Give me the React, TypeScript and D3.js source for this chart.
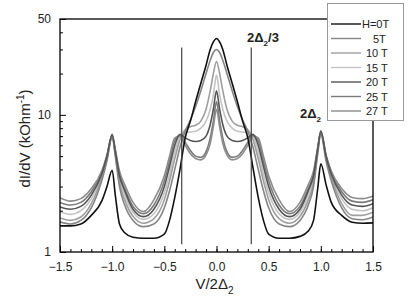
import * as d3 from 'd3';
import { useEffect, useRef } from 'react';

// bias voltage in units of 2Δ2
const xs = [
  -1.5, -1.4, -1.3, -1.2, -1.1, -1.05, -1.0, -0.97, -0.93, -0.88, -0.8, -0.7, -0.6, -0.5, -0.45, -0.4, -0.35, -0.3, -0.25, -0.2, -0.15, -0.1, -0.06, -0.03,
  0,
  0.03, 0.06, 0.1, 0.15, 0.2, 0.25, 0.3, 0.35, 0.4, 0.45, 0.5, 0.6, 0.7, 0.8, 0.88, 0.93, 0.97, 1.0, 1.05, 1.1, 1.2, 1.3, 1.4, 1.5,
];

const h0 = [
  1.55, 1.55, 1.6, 1.85, 2.35, 3.0, 3.95, 2.6, 1.6, 1.38, 1.28, 1.26, 1.26, 1.35, 1.7, 2.5, 4.0, 6.8, 9.0, 12.5, 17, 23, 30, 34,
  36,
  34, 30, 23, 17, 12.5, 9.0, 6.8, 4.1, 2.5, 1.7, 1.35, 1.26, 1.26, 1.3, 1.42, 1.7, 2.9, 4.4, 3.1, 2.3, 1.85, 1.65, 1.62, 1.63,
];
const h5 = [
  1.66, 1.6, 1.7, 2.1, 3.3, 4.6, 6.9, 5.0, 3.0, 2.2, 1.7, 1.53, 1.6, 2.1, 2.8, 4.0, 5.8, 7.6, 9.2, 11.5, 15, 20, 25, 28.5,
  30,
  28.5, 25, 20, 15, 11.5, 9.2, 7.6, 5.8, 4.0, 2.8, 2.1, 1.6, 1.53, 1.7, 2.2, 3.0, 5.2, 7.3, 4.6, 3.3, 2.1, 1.75, 1.72, 1.8,
];
const h10 = [
  1.77, 1.7, 1.8, 2.25, 3.5, 4.8, 7.0, 5.2, 3.2, 2.4, 1.82, 1.62, 1.75, 2.4, 3.3, 4.8, 6.6, 7.8, 8.2, 8.4, 9.0, 11, 15, 20,
  24.5,
  20, 15, 11, 9.0, 8.4, 8.2, 7.8, 6.6, 4.8, 3.3, 2.4, 1.75, 1.62, 1.82, 2.4, 3.2, 5.4, 7.4, 4.8, 3.5, 2.25, 1.85, 1.85, 1.95,
];
const h15 = [
  1.96, 1.88, 2.0, 2.45, 3.6, 4.9, 7.1, 5.3, 3.4, 2.6, 1.95, 1.73, 1.9, 2.7, 3.7, 5.4, 7.0, 7.4, 7.5, 7.6, 8.0, 9.0, 11, 14,
  19.5,
  14, 11, 9.0, 8.0, 7.6, 7.5, 7.4, 7.0, 5.4, 3.7, 2.7, 1.9, 1.73, 1.95, 2.6, 3.4, 5.5, 7.5, 4.9, 3.6, 2.45, 2.05, 2.0, 2.1,
];
const h20 = [
  2.13, 2.05, 2.15, 2.6, 3.7, 5.0, 7.2, 5.4, 3.6, 2.8, 2.05, 1.81, 2.05, 3.0, 4.2, 6.0, 7.2, 6.8, 6.5, 6.4, 6.5, 7.0, 8.5, 11,
  15,
  11, 8.5, 7.0, 6.5, 6.4, 6.5, 6.8, 7.2, 6.0, 4.2, 3.0, 2.05, 1.81, 2.05, 2.8, 3.6, 5.6, 7.6, 5.0, 3.7, 2.6, 2.2, 2.15, 2.25,
];
const h25 = [
  2.3, 2.2, 2.3, 2.75, 3.8, 5.0, 7.0, 5.5, 3.7, 2.9, 2.15, 1.9, 2.2, 3.3, 4.6, 6.5, 7.1, 6.3, 5.5, 5.0, 4.9, 5.4, 6.8, 9,
  12.5,
  9, 6.8, 5.4, 4.9, 5.0, 5.5, 6.3, 7.1, 6.5, 4.6, 3.3, 2.2, 1.9, 2.15, 2.9, 3.7, 5.7, 7.5, 5.0, 3.8, 2.75, 2.35, 2.3, 2.4,
];
const h27 = [
  2.48, 2.35, 2.45, 2.9, 3.9, 5.1, 7.1, 5.6, 3.9, 3.1, 2.3, 1.97, 2.4, 3.6, 5.0, 6.8, 7.0, 6.0, 5.2, 4.8, 4.7, 5.1, 6.2, 8.2,
  11,
  8.2, 6.2, 5.1, 4.7, 4.8, 5.2, 6.0, 7.0, 6.8, 5.0, 3.6, 2.4, 1.97, 2.3, 3.1, 3.9, 5.8, 7.7, 5.1, 3.9, 2.9, 2.5, 2.45, 2.55,
];

const labels = ['H=0T', '5T', '10 T', '15 T', '20 T', '25 T', '27 T'];
const series = [h0, h5, h10, h15, h20, h25, h27];
const colors = ['#111', '#858585', '#9e9e9e', '#c4c4c4', '#555', '#7a7a7a', '#8c8c8c'];

const xTicks = [-1.5, -1.0, -0.5, 0.0, 0.5, 1.0, 1.5];
const yTicks = [1, 10, 50];
const markers = [-1 / 3, 1 / 3];

export default function App() {
  const ref = useRef<SVGSVGElement | null>(null);

  useEffect(() => {
    const svg = d3.select(ref.current);
    svg.selectAll('*').remove();

    const width = 409;
    const height = 304;
    const margin = { top: 19, right: 36, bottom: 52, left: 60 };
    const font = 'Liberation Sans, Arial, sans-serif';

    const x = d3.scaleLinear().domain([-1.5, 1.5]).range([margin.left, width - margin.right]);
    const y = d3.scaleLog().domain([1, 50]).range([height - margin.bottom, margin.top]);

    svg.attr('width', width).attr('height', height);

    const line = d3.line<number>()
      .x((_, i) => x(xs[i]))
      .y(d => y(d))
      .curve(d3.curveMonotoneX);

    const plot = svg.append('g');
    plot.append('defs').append('clipPath').attr('id', 'clip')
      .append('rect')
      .attr('x', margin.left).attr('y', margin.top)
      .attr('width', x(1.5) - x(-1.5)).attr('height', y(1) - y(50));

    // draw the light ones first, black on top
    const order = [3, 2, 1, 5, 6, 4, 0];
    order.forEach(k => {
      plot.append('path')
        .datum(series[k])
        .attr('clip-path', 'url(#clip)')
        .attr('fill', 'none')
        .attr('stroke', colors[k])
        .attr('stroke-width', 1.6)
        .attr('d', line);
    });

    // 2Δ2/3 markers
    markers.forEach(m => {
      svg.append('line')
        .attr('x1', x(m)).attr('x2', x(m))
        .attr('y1', y(1.14)).attr('y2', y(31))
        .attr('stroke', '#444').attr('stroke-width', 1.2);
    });

    // frame
    svg.append('rect')
      .attr('x', x(-1.5)).attr('y', y(50))
      .attr('width', x(1.5) - x(-1.5)).attr('height', y(1) - y(50))
      .attr('fill', 'none').attr('stroke', '#000').attr('stroke-width', 1.3);

    // bottom axis, inward ticks
    const xb = svg.append('g')
      .attr('transform', `translate(0,${y(1)})`)
      .call(d3.axisBottom(x).tickValues(d3.range(-15, 16).map(d => d / 10)).tickSize(-3).tickFormat(() => ''));
    xb.select('.domain').remove();
    const xm = svg.append('g')
      .attr('transform', `translate(0,${y(1)})`)
      .call(d3.axisBottom(x).tickValues(xTicks).tickSize(-6).tickPadding(10).tickFormat(d3.format('.1f')));
    xm.select('.domain').remove();
    xm.selectAll('text').attr('font-size', 12).attr('font-family', font).attr('fill', '#222');

    // left axis (log)
    const minor = [2, 3, 4, 5, 6, 7, 8, 9, 20, 30, 40];
    const yb = svg.append('g')
      .attr('transform', `translate(${x(-1.5)},0)`)
      .call(d3.axisLeft(y).tickValues(minor).tickSize(-3).tickFormat(() => ''));
    yb.select('.domain').remove();
    const ym = svg.append('g')
      .attr('transform', `translate(${x(-1.5)},0)`)
      .call(d3.axisLeft(y).tickValues(yTicks).tickSize(-6).tickPadding(9).tickFormat(d3.format('d')));
    ym.select('.domain').remove();
    ym.selectAll('text').attr('font-size', 12).attr('font-family', font).attr('fill', '#222');

    // axis titles
    const yt = svg.append('text')
      .attr('transform', `translate(30,${(y(1) + y(50)) / 2 + 3}) rotate(-90)`)
      .attr('text-anchor', 'middle')
      .attr('font-family', font).attr('font-size', 15).attr('fill', '#222');
    yt.append('tspan').text('dI/dV (kOhm');
    yt.append('tspan').attr('font-size', 10).attr('dy', -6).text('-1');
    yt.append('tspan').attr('dy', 6).text(')');

    const xt = svg.append('text')
      .attr('x', x(0) - 2).attr('y', 289)
      .attr('text-anchor', 'middle')
      .attr('font-family', font).attr('font-size', 15).attr('fill', '#222');
    xt.append('tspan').text('V/2Δ');
    xt.append('tspan').attr('font-size', 10).attr('dy', 5).text('2');

    // annotations
    const a1 = svg.append('text')
      .attr('x', 247).attr('y', 42)
      .attr('font-family', font).attr('font-size', 13).attr('font-weight', 'bold').attr('fill', '#222');
    a1.append('tspan').text('2Δ');
    a1.append('tspan').attr('font-size', 8).attr('dy', 4).text('2');
    a1.append('tspan').attr('dy', -4).text('/3');

    const a2 = svg.append('text')
      .attr('x', 300).attr('y', 118)
      .attr('font-family', font).attr('font-size', 13).attr('font-weight', 'bold').attr('fill', '#222');
    a2.append('tspan').text('2Δ');
    a2.append('tspan').attr('font-size', 8).attr('dy', 4).text('2');

    // legend
    const lg = svg.append('g');
    lg.append('rect')
      .attr('x', 327.5).attr('y', 3.5).attr('width', 76).attr('height', 117)
      .attr('fill', '#fff').attr('stroke', '#999').attr('stroke-width', 1);
    const textX = [362, 373, 366, 366, 366, 366, 366];
    labels.forEach((lab, i) => {
      const ly = 24 + i * 14.5;
      lg.append('line')
        .attr('x1', 331).attr('x2', 361).attr('y1', ly).attr('y2', ly)
        .attr('stroke', colors[i]).attr('stroke-width', 1.4);
      lg.append('text')
        .attr('x', textX[i]).attr('y', ly + 4)
        .attr('font-family', font).attr('font-size', 11).attr('fill', '#222')
        .text(lab);
    });
  }, []);

  return <svg ref={ref} style={{ position: 'absolute', left: 0, top: 0 }}></svg>;
}
